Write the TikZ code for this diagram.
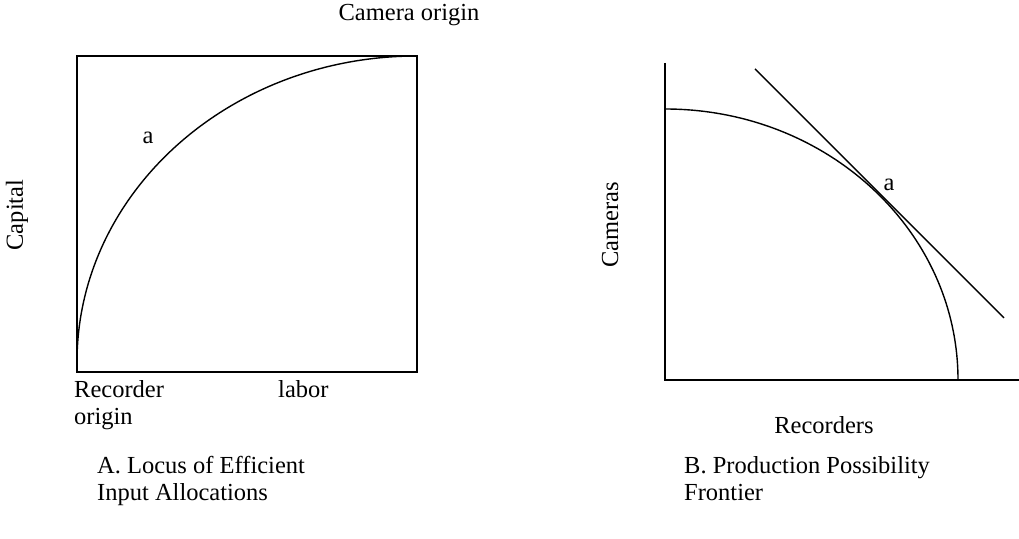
\documentclass[tikz,border=0pt]{standalone}
\usepackage{fontspec}
\setmainfont{Liberation Serif}
\usetikzlibrary{calc}

\begin{document}
\begin{tikzpicture}[x=1pt, y=1pt,
    curve/.style={line width=1.4pt},
    frame/.style={line width=1.6pt},
    lbl/.style={font=\fontsize{24.5}{27}\selectfont, inner sep=0pt},
    captext/.style={lbl, align=left, anchor=north west}]

    \useasboundingbox (0,0) rectangle (1019,538);

    % panel A: Edgeworth box
    \coordinate (boxsw) at (77,166);
    \coordinate (boxne) at (417,482);
    \draw[frame] (boxsw) rectangle (boxne);
    \draw[curve] (77,176) arc[start angle=180, end angle=90, x radius=340, y radius=306];
    \node[lbl] (aleft) at (148,400) {a};
    \node[lbl] (camorig) at (409,523) {Camera origin};
    \node[lbl, rotate=90] (capital) at (17,323) {Capital};
    \node[captext] (recorig) at (74,158) {Recorder\\origin};
    \node[lbl, anchor=base west] (labor) at (278,140) {labor};
    \node[captext] (capA) at (97,82) {A. Locus of Efficient\\Input Allocations};

    % panel B: production possibility frontier
    \coordinate (org) at (665,158);
    \draw[frame] (665,475) -- (org) -- (1019,158);
    \draw[curve] (665,429) arc[start angle=90, end angle=0, x radius=293, y radius=271];
    \coordinate (tp) at ($(org)+(215.0,184.1)$);
    \draw[curve] ($(tp)+(-125,127)$) -- ($(tp)+(124,-122)$);
    \node[lbl] (aright) at (889,353) {a};
    \node[lbl, rotate=90] (cameras) at (610,313) {Cameras};
    \node[lbl] (recorders) at (824,113) {Recorders};
    \node[captext] (capB) at (684,82) {B. Production Possibility\\Frontier};
\end{tikzpicture}
\end{document}
